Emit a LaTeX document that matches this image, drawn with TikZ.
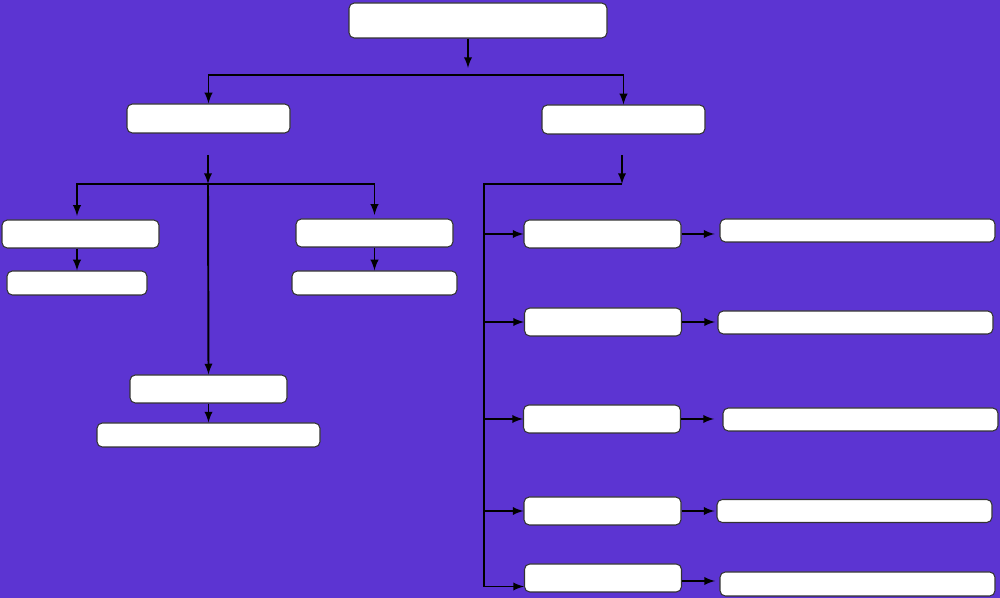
\documentclass[tikz,border=0pt]{standalone}
\usepackage{tikz}
\usetikzlibrary{positioning}
\definecolor{bgpurple}{RGB}{92,52,210}

\begin{document}
\begin{tikzpicture}[->,>=latex,line width=1.1pt,box/.style={draw=black!80,fill=white,rounded corners=3pt,inner sep=0pt,line width=0.6pt},mid/.style={box,minimum width=3.14cm,minimum height=0.56cm},wide/.style={box,minimum width=5.5cm,minimum height=0.46cm}]
\fill[bgpurple,draw=none] (0,0) rectangle (20,-11.96);
\node[box, minimum width=5.16cm, minimum height=0.7cm] (top) at (9.56,-0.41) {};
\node[box, minimum width=3.26cm, minimum height=0.58cm] (left) at (4.17,-2.37) {};
\node[box, minimum width=3.26cm, minimum height=0.58cm] (right) at (12.47,-2.39) {};
\node[mid] (A) at (1.61,-4.68) {};
\node[box, minimum width=2.8cm, minimum height=0.48cm] (Asub) at (1.54,-5.66) {};
\node[mid] (B) at (7.49,-4.66) {};
\node[box, minimum width=3.3cm, minimum height=0.48cm] (Bsub) at (7.49,-5.66) {};
\node[mid] (C) at (4.17,-7.78) {};
\node[box, minimum width=4.46cm, minimum height=0.48cm] (Csub) at (4.17,-8.7) {};
\node[mid] (R1) at (12.05,-4.68) {};
\node[mid] (R2) at (12.06,-6.44) {};
\node[mid] (R3) at (12.04,-8.38) {};
\node[mid] (R4) at (12.05,-10.22) {};
\node[mid] (R5) at (12.06,-11.56) {};
\node[wide] (L1) at (17.15,-4.61) {};
\node[wide] (L2) at (17.11,-6.45) {};
\node[wide] (L3) at (17.21,-8.39) {};
\node[wide] (L4) at (17.09,-10.22) {};
\node[wide, minimum height=0.48cm] (L5) at (17.15,-11.68) {};
\coordinate (t0) at (9.36,-1.36);
\coordinate (tb) at (9.36,-1.5);
\coordinate (lt) at (4.16,-3.1);
\coordinate (lb) at (4.16,-3.68);
\coordinate (rt) at (12.44,-3.1);
\coordinate (rb) at (12.44,-3.68);
\coordinate (spine) at (9.68,-3.68);
\draw (top.south -| t0) -- (t0);
\draw[<->] (left.north) |- (tb) -| (right.north);
\draw (lt) -- (lb);
\draw (lb) -- (C.north);
\draw[<->,shorten <=2pt,shorten >=2pt] (A.north -| Asub) |- (lb) -| (B.north -| Bsub);
\draw (A.south -| Asub) -- (Asub.north);
\draw (B.south -| Bsub.north) -- (Bsub.north);
\draw (C.south) -- (Csub.north);
\draw (rt) -- (rb);
\draw (rb) -- (spine) |- ([yshift=-0.17cm]R5.west);
\foreach \i in {1,...,4}
  \draw (spine |- R\i.west) -- (R\i.west);
\foreach \i in {1,...,4}
  \draw (R\i.east) -- ++(0.66,0);
\draw ([yshift=-0.06cm]R5.east) -- ++(0.66,0);
\end{tikzpicture}
\end{document}
